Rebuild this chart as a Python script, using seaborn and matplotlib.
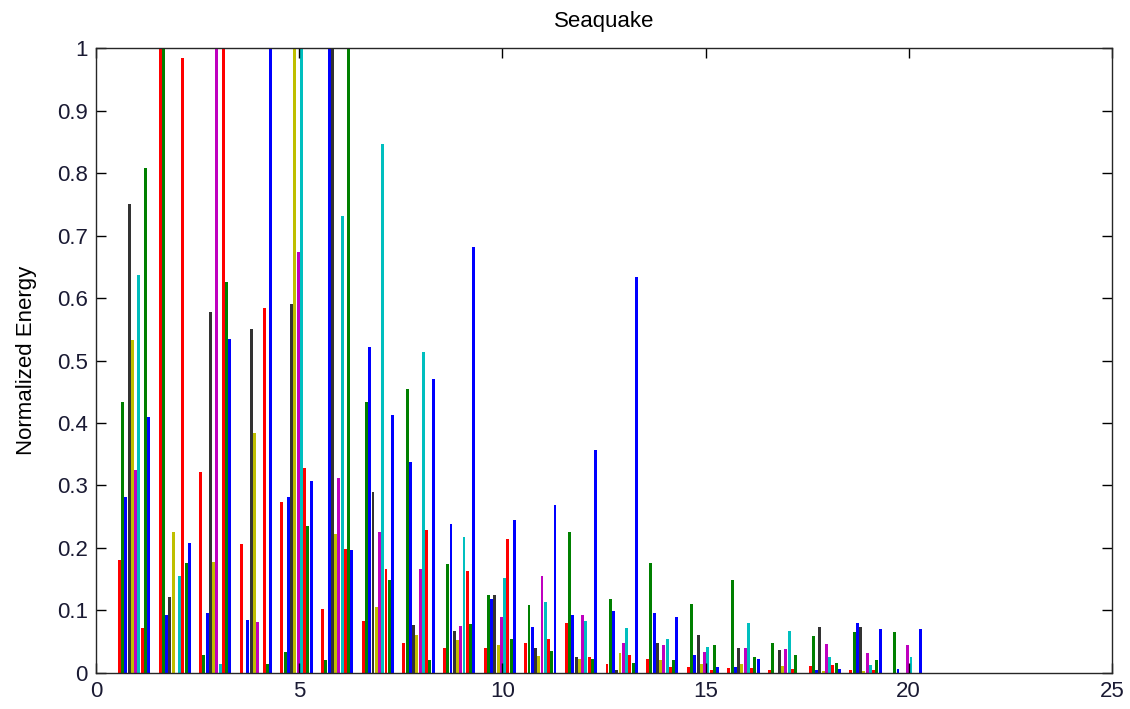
import seaborn as sns
import pandas as pd
import numpy as np
import matplotlib.pyplot as plt

# group centres on the x axis
group_x = [0.935, 1.935, 2.935, 3.935, 4.935, 5.935, 6.935, 7.935, 8.935, 9.935,
           10.935, 11.935, 12.935, 13.935, 14.935, 15.935, 16.935, 17.935, 18.935, 19.935]

# normalized energy, one list per series (10 series per group)
s1 = [0.181, 1.0, 0.322, 0.206, 0.273, 0.103, 0.083, 0.048, 0.040, 0.039,
      0.047, 0.080, 0.014, 0.022, 0.010, 0.008, 0.005, 0.011, 0.004, 0.0]
s2 = [0.433, 1.0, 0.029, 0.0, 0.034, 0.020, 0.433, 0.454, 0.175, 0.124,
      0.108, 0.225, 0.118, 0.176, 0.111, 0.148, 0.048, 0.059, 0.065, 0.065]
s3 = [0.281, 0.093, 0.096, 0.084, 0.281, 1.0, 0.521, 0.338, 0.238, 0.118,
      0.073, 0.093, 0.099, 0.096, 0.029, 0.010, 0.0, 0.004, 0.079, 0.006]
s4 = [0.750, 0.121, 0.578, 0.550, 0.590, 1.0, 0.290, 0.076, 0.067, 0.124,
      0.040, 0.025, 0.005, 0.047, 0.060, 0.039, 0.037, 0.073, 0.073, 0.0]
s5 = [0.533, 0.225, 0.178, 0.384, 1.0, 0.222, 0.106, 0.060, 0.052, 0.045,
      0.027, 0.022, 0.031, 0.020, 0.014, 0.014, 0.011, 0.003, 0.003, 0.0]
s6 = [0.325, 0.0, 1.0, 0.081, 0.673, 0.312, 0.225, 0.167, 0.075, 0.090,
      0.155, 0.093, 0.047, 0.044, 0.033, 0.039, 0.038, 0.046, 0.031, 0.044]
s7 = [0.637, 0.155, 0.014, 0.0, 1.0, 0.732, 0.846, 0.514, 0.217, 0.152,
      0.114, 0.083, 0.071, 0.054, 0.042, 0.080, 0.067, 0.025, 0.013, 0.025]
s8 = [0.071, 0.985, 1.0, 0.584, 0.328, 0.199, 0.167, 0.228, 0.163, 0.214,
      0.054, 0.025, 0.029, 0.010, 0.005, 0.008, 0.006, 0.013, 0.005, 0.0]
s9 = [0.808, 0.176, 0.625, 0.014, 0.235, 1.0, 0.148, 0.020, 0.078, 0.054,
      0.035, 0.022, 0.016, 0.020, 0.044, 0.025, 0.028, 0.016, 0.021, 0.0]
s10 = [0.410, 0.208, 0.534, 1.0, 0.307, 0.196, 0.413, 0.470, 0.681, 0.244,
       0.269, 0.357, 0.633, 0.090, 0.010, 0.022, 0.0, 0.006, 0.070, 0.070]

series_names = ['s1', 's2', 's3', 's4', 's5', 's6', 's7', 's8', 's9', 's10']
series_values = [s1, s2, s3, s4, s5, s6, s7, s8, s9, s10]

# matlab-ish colour cycle r g b k y m c r g b
colors = ['#ff0000', '#008000', '#0000ff', '#333333', '#bfbf00',
          '#bf00bf', '#00bfbf', '#ff0000', '#008000', '#0000ff']


rows = []
for name, vals in zip(series_names, series_values):
    for x, v in zip(group_x, vals):
        rows.append({'x': x, 'energy': v, 'series': name})
df = pd.DataFrame(rows)

plt.rcParams['font.family'] = ['Liberation Sans', 'DejaVu Sans']

fig = plt.figure(figsize=(11.3, 7.09), dpi=100)
ax = fig.add_axes([0.085, 0.051, 0.899, 0.881])

sns.barplot(data=df, x='x', y='energy', hue='series', hue_order=series_names,
            palette=colors, saturation=1, native_scale=True, width=0.8, gap=0.1,
            linewidth=0, errorbar=None, legend=False, ax=ax)

ax.set_xlim(0, 25)
ax.set_ylim(0, 1)
ax.set_xticks([0, 5, 10, 15, 20, 25])
ax.set_xticklabels(['0', '5', '10', '15', '20', '25'])
ax.set_yticks(np.arange(0, 1.01, 0.1))
ax.set_yticklabels(['0', '0.1', '0.2', '0.3', '0.4', '0.5', '0.6', '0.7', '0.8', '0.9', '1'])
ax.tick_params(direction='in', top=True, right=True, length=7, width=1,
               labelsize=16, pad=6, labelcolor='#1a1a33')
for sp in ax.spines.values():
    sp.set_linewidth(1)
    sp.set_color('#262626')

ax.set_xlabel('')
ax.set_ylabel('Normalized Energy', fontsize=16, labelpad=14)
ax.set_title('Seaquake', fontsize=16, pad=15)

plt.savefig('out.png', dpi=100)
plt.close()
